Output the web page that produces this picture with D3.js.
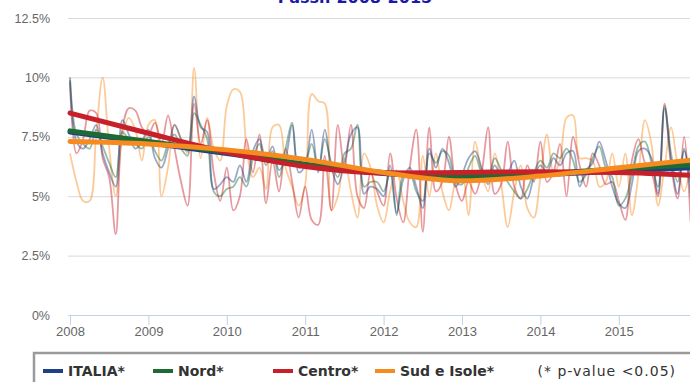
<!DOCTYPE html>
<html>
<head>
<meta charset="utf-8">
<script src="https://cdn.jsdelivr.net/npm/d3@7"></script>
<style>
  body { margin: 0; background: #fff; }
  svg { display: block; font-family: "DejaVu Sans", sans-serif; }
</style>
</head>
<body>
<div id="chart"></div>
<script>
// monthly values, Jan 2008 .. Dec 2015 (%)
var years = [2008, 2009, 2010, 2011, 2012, 2013, 2014, 2015];
var yTicks = [0, 2.5, 5, 7.5, 10, 12.5];

var italia = [
  9.9, 7.3, 7.0, 7.4, 8.0, 6.8, 6.0, 5.4, 8.2, 7.6, 7.0, 7.3,
  7.8, 6.6, 6.2, 7.0, 8.0, 7.4, 6.9, 9.2, 7.9, 7.7, 5.3, 5.5,
  5.8, 5.6, 6.3, 5.6, 6.9, 7.4, 6.5, 7.1, 6.1, 6.6, 8.0, 6.0,
  6.3, 7.8, 6.0, 7.8, 6.2, 5.5, 6.4, 7.6, 7.9, 5.1, 5.4, 5.3,
  5.0, 6.3, 4.3, 5.7, 6.2, 5.4, 4.5, 7.0, 6.2, 7.0, 6.4, 5.4,
  5.9, 6.6, 6.9, 6.2, 5.5, 6.3, 5.9, 6.0, 6.5, 5.4, 4.9, 5.8,
  6.3, 6.0, 6.6, 6.3, 6.8, 6.9, 5.4, 6.1, 6.4, 7.3, 6.5, 5.4,
  4.7, 4.5, 5.5, 6.9, 7.0, 6.6, 5.1, 8.7, 6.5, 5.1, 7.0, 5.0
];
var nord = [
  10.0, 7.6, 7.2, 7.0, 7.8, 7.1, 6.4, 5.8, 7.7, 7.4, 7.2, 7.0,
  7.5, 6.9, 6.5, 7.2, 7.6, 7.0, 6.7, 8.5, 8.0, 7.4, 5.2, 5.0,
  5.3, 5.4, 5.8, 5.4, 6.6, 7.2, 6.3, 6.9, 5.8, 7.0, 8.1, 6.2,
  6.4, 7.2, 6.1, 7.4, 6.4, 5.8, 6.8, 7.0, 8.0, 5.4, 5.6, 5.6,
  5.2, 6.0, 4.2, 5.9, 6.0, 5.2, 4.8, 6.8, 6.4, 6.9, 6.7, 5.6,
  5.5, 6.2, 6.7, 6.0, 5.8, 6.6, 6.1, 5.6, 5.2, 4.9, 5.3, 6.0,
  6.5, 6.2, 6.8, 6.6, 7.0, 6.5, 5.6, 5.9, 6.6, 7.1, 6.2, 5.8,
  4.6, 4.9, 5.9, 7.1, 7.3, 6.4, 5.4, 8.8, 6.8, 5.6, 6.9, 5.6
];
var centro = [
  9.8, 6.8, 7.4, 8.6, 8.5, 6.6, 5.8, 3.4, 7.8, 8.7, 8.6, 7.9,
  7.6, 8.1, 7.2, 8.4, 7.0, 5.6, 4.6, 8.9, 7.2, 8.2, 6.0, 4.8,
  6.2, 4.4, 5.0, 7.4, 6.0, 7.6, 4.7, 6.5, 5.2, 7.0, 5.6, 4.1,
  5.4, 4.0, 3.8, 6.7, 4.4, 8.0, 6.2, 8.0, 5.0, 4.5, 6.0, 5.2,
  4.6, 6.8, 4.9, 3.9, 6.2, 7.8, 3.5, 7.9, 5.2, 5.6, 7.5, 5.5,
  4.8, 5.6, 5.1, 6.0, 7.9, 5.1, 5.5, 7.3, 5.4, 4.9, 6.3, 5.6,
  7.3, 5.6, 6.0, 7.2, 5.0, 7.5, 6.3, 5.4, 6.8, 6.3, 5.5, 5.6,
  4.8, 4.0, 6.5, 7.4, 6.4, 6.0, 5.0, 8.9, 6.3, 4.9, 7.5, 3.9
];
var sud = [
  6.8, 5.6, 4.8, 4.8, 7.6, 10.0, 7.0, 5.0, 7.5, 8.3, 7.8, 6.5,
  8.0, 8.2, 5.0, 6.2, 8.0, 7.4, 6.8, 10.4, 6.6, 8.3, 7.0, 6.5,
  8.8, 9.5, 9.4, 7.1, 5.8, 6.2, 5.3, 7.9, 8.0, 6.2, 5.4, 4.6,
  5.5, 9.3, 9.0, 8.9, 4.4, 5.0, 6.6, 5.2, 4.1, 6.8, 6.2, 4.6,
  3.9, 5.2, 6.1, 4.8, 3.9, 3.7, 6.7, 5.0, 6.8, 5.2, 4.4, 5.6,
  6.0, 4.2, 7.3, 6.0, 5.2, 6.8, 5.5, 3.7, 5.2, 6.3, 4.5, 4.1,
  5.8, 7.6, 6.0, 6.5, 8.3, 8.4, 6.6, 6.6, 6.5, 5.4, 5.6, 6.8,
  5.4, 6.8, 4.2, 5.9, 8.2, 7.2, 4.6, 6.2, 7.9, 6.3, 5.2, 6.4
];

// trend curves read at the start of each year (month index) and at the last month
var trendMonths = [0, 12, 24, 36, 48, 60, 72, 84, 95];
var trendItalia = [7.70, 7.25, 6.80, 6.30, 5.95, 5.80, 5.90, 6.05, 6.20];
var trendNord   = [7.75, 7.30, 6.85, 6.35, 6.00, 5.85, 5.95, 6.15, 6.32];
var trendCentro = [8.50, 7.65, 6.85, 6.25, 5.98, 6.00, 6.03, 6.00, 5.88];
var trendSud    = [7.30, 7.20, 6.95, 6.55, 6.00, 5.65, 5.85, 6.20, 6.52];

var seriesNames = ["ITALIA*", "Nord*", "Centro*", "Sud e Isole*"];
var colors = ["#1f3f87", "#1d6b34", "#c8202a", "#f68b1f"];

var width = 690, height = 382;
var x = d3.scaleLinear().domain([0, 96]).range([70, 697.2]);
var y = d3.scaleLinear().domain([0, 12.5]).range([315, 18]);

var svg = d3.select("#chart").append("svg")
  .attr("width", width).attr("height", height);

// title, cut off at the top like the source image
svg.append("text")
  .attr("x", 355).attr("y", 3)
  .attr("text-anchor", "middle")
  .style("font-size", "16px").style("font-weight", "bold")
  .style("fill", "#1a1aa6")
  .text("Passi: 2008-2015");

// grid + y labels
var yAxis = d3.axisLeft(y).tickValues(yTicks)
  .tickSize(-(width - 68))
  .tickFormat(function (d) { return d + "%"; });
var gy = svg.append("g").attr("transform", "translate(68,0)").call(yAxis);
gy.select(".domain").remove();
gy.selectAll("line").attr("stroke", "#d9d9d9").attr("stroke-width", 1);
gy.selectAll("text").attr("x", -18).attr("fill", "#666").style("font-size", "12.5px");

// x axis
var xAxis = d3.axisBottom(x).tickValues(years.map(function (d, i) { return i * 12; }))
  .tickSize(10)
  .tickFormat(function (d, i) { return years[i]; });
var gx = svg.append("g").attr("transform", "translate(0,315)").call(xAxis);
gx.select(".domain").attr("d", "M68,0.5H690").attr("stroke", "#c3d1e0");
gx.selectAll("line").attr("stroke", "#c3d1e0");
gx.selectAll("text").attr("y", 12).attr("fill", "#666").style("font-size", "13px");

var plot = svg.append("g");

// monthly series, thin and faded
var monthly = [sud, centro, nord, italia];
var monthlyColors = [colors[3], colors[2], colors[1], colors[0]];
var thin = d3.line()
  .x(function (d, i) { return x(i); })
  .y(function (d) { return y(d); })
  .curve(d3.curveCatmullRom.alpha(0.5));
monthly.forEach(function (s, k) {
  plot.append("path").datum(s)
    .attr("fill", "none")
    .attr("stroke", monthlyColors[k])
    .attr("stroke-opacity", 0.45)
    .attr("stroke-width", 1.8)
    .attr("d", thin);
});

// trend lines, thick
var trends = [trendItalia, trendNord, trendCentro, trendSud];
var thick = d3.line()
  .x(function (d, i) { return x(trendMonths[i]); })
  .y(function (d) { return y(d); })
  .curve(d3.curveMonotoneX);
trends.forEach(function (t, k) {
  plot.append("path").datum(t)
    .attr("fill", "none")
    .attr("stroke", colors[k])
    .attr("stroke-width", 5)
    .attr("stroke-linecap", "round")
    .attr("d", thick);
});

// legend
var lg = svg.append("g");
lg.append("rect")
  .attr("x", 34).attr("y", 353).attr("width", 700).attr("height", 40)
  .attr("fill", "#fff").attr("stroke", "#9a9a9a").attr("stroke-width", 2.5);
var legendX = [43, 153, 273, 375];
seriesNames.forEach(function (name, i) {
  lg.append("line")
    .attr("x1", legendX[i]).attr("x2", legendX[i] + 20)
    .attr("y1", 371).attr("y2", 371)
    .attr("stroke", colors[i]).attr("stroke-width", 4);
  lg.append("text")
    .attr("x", legendX[i] + 25).attr("y", 376)
    .style("font-size", "14px").style("font-weight", "bold")
    .attr("fill", "#333").text(name);
});
lg.append("text")
  .attr("x", 676).attr("y", 376).attr("text-anchor", "end")
  .style("font-size", "14px").style("letter-spacing", "1px").attr("fill", "#333")
  .text("(* p-value <0.05)");
</script>
</body>
</html>
